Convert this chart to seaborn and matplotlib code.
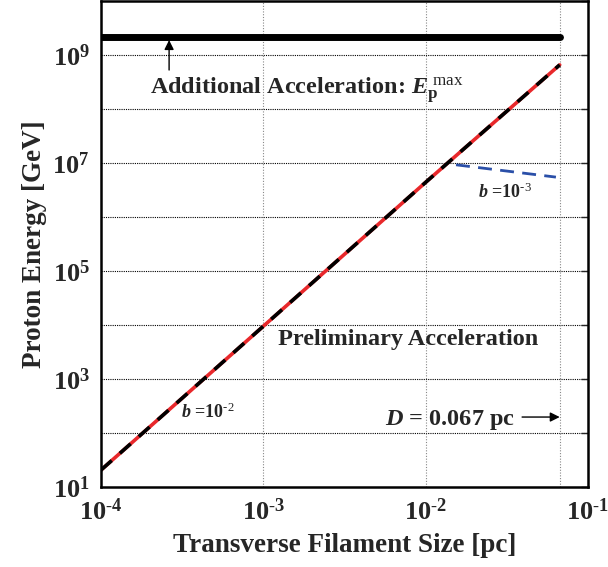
import math
import matplotlib
matplotlib.use('Agg')
import matplotlib.pyplot as plt
import matplotlib.ticker as mticker
import seaborn as sns
import pandas as pd

# values
size_pc = [1e-4, 1e-3, 1e-2, 0.067]
energy_b2 = [20.6, 9.5e3, 4.4e6, 6.6e8]
size_b3 = [0.0154, 0.0635]
energy_b3 = [9.3e6, 5.5e6]
size_max = [1e-4, 0.067]
energy_max = [2.2e9, 2.2e9]
D_pc = 0.067

sns.set_style('white')
plt.rcParams['font.family'] = ['Liberation Serif', 'DejaVu Serif']
plt.rcParams['font.weight'] = 'bold'
plt.rcParams['mathtext.fontset'] = 'custom'
plt.rcParams['mathtext.rm'] = 'Liberation Serif:normal'
plt.rcParams['mathtext.it'] = 'Liberation Serif:italic:bold'
plt.rcParams['mathtext.bf'] = 'Liberation Serif:bold'

fig = plt.figure(figsize=(6.08, 5.67), dpi=100)
ax = fig.add_axes([0.166, 0.141, 0.801, 0.857])

main = pd.DataFrame({'size': size_pc, 'energy': energy_b2})
low = pd.DataFrame({'size': size_b3, 'energy': energy_b3})
top = pd.DataFrame({'size': size_max, 'energy': energy_max})

sns.lineplot(data=top, x='size', y='energy', color='black', lw=5, ax=ax)
sns.lineplot(data=main, x='size', y='energy', color='#e8282b', lw=2.6, ax=ax)
sns.lineplot(data=main, x='size', y='energy', color='black', lw=2.6, ax=ax,
             linestyle=(0, (4, 3)))
sns.lineplot(data=low, x='size', y='energy', color='#2a4fa8', lw=2.0, ax=ax,
             linestyle=(0, (5, 3)))

ax.set_xscale('log')
ax.set_yscale('log')
ax.set_xlim(1e-4, 1e-1)
ax.set_ylim(1e1, 1e10)

# grid: horizontal every decade, vertical at decades and at D
for k in range(2, 10):
    ax.axhline(10.0 ** k, color='black', lw=0.8, ls=(0, (1, 1)), zorder=0)
for xv in [1e-3, 1e-2, D_pc]:
    ax.axvline(xv, color='#888888', lw=0.8, ls=(0, (1, 1.5)), zorder=0)


def pow_label(v, p):
    e = round(math.log10(v))
    if e < 0:
        return r'$\mathbf{10^{\text{-}%d}}$' % (-e)
    return r'$\mathbf{10^{%d}}$' % e


def ylabel_fmt(v, p):
    e = round(math.log10(v))
    return pow_label(v, p) if e % 2 == 1 and e < 10 else ''


ax.xaxis.set_major_locator(mticker.FixedLocator([1e-4, 1e-3, 1e-2, 1e-1]))
ax.yaxis.set_major_locator(mticker.FixedLocator([10.0 ** k for k in range(1, 11)]))
ax.xaxis.set_minor_locator(mticker.NullLocator())
ax.yaxis.set_minor_locator(mticker.NullLocator())
ax.xaxis.set_major_formatter(mticker.FuncFormatter(pow_label))
ax.yaxis.set_major_formatter(mticker.FuncFormatter(ylabel_fmt))
ax.tick_params(axis='both', which='major', direction='in', length=5, width=1,
               labelsize=19, top=False, right=True, pad=8)
for s in ax.spines.values():
    s.set_linewidth(1.8)
    s.set_color('black')

ax.set_xlabel('Transverse Filament Size [pc]', fontsize=19.5, fontweight='bold', labelpad=6)
ax.set_ylabel('Proton Energy [GeV]', fontsize=19.5, fontweight='bold', labelpad=4)

ax.text(0.1006, 0.809, r'Additional Acceleration: $\mathit{E}_{\mathbf{p}}^{\;\mathrm{max}}$',
        transform=ax.transAxes, fontsize=17.5, fontweight='bold', va='baseline')
ax.text(0.363, 0.292, 'Preliminary Acceleration', transform=ax.transAxes,
        fontsize=17.5, fontweight='bold', va='baseline')
ax.text(0.583, 0.128, r'$\mathit{D}$ = 0.067 pc', transform=ax.transAxes,
        fontsize=17.5, fontweight='bold', va='baseline')
ax.text(0.164, 0.142, r'$\mathit{b}$ =10$^{\text{-}2}$', transform=ax.transAxes,
        fontsize=13, fontweight='bold', va='baseline')
ax.text(0.774, 0.595, r'$\mathit{b}$ =10$^{\text{-}3}$', transform=ax.transAxes,
        fontsize=13, fontweight='bold', va='baseline')

ax.annotate('', xy=(2.63e-4, 1.9e9), xytext=(2.63e-4, 5.3e8),
            arrowprops=dict(arrowstyle='-|>', color='black', lw=1.0,
                            mutation_scale=14, shrinkA=0, shrinkB=0))
ax.annotate('', xy=(D_pc, 198), xytext=(0.0393, 198),
            arrowprops=dict(arrowstyle='-|>', color='black', lw=1.0,
                            mutation_scale=14, shrinkA=0, shrinkB=0))

fig.savefig('out.png', dpi=100)
